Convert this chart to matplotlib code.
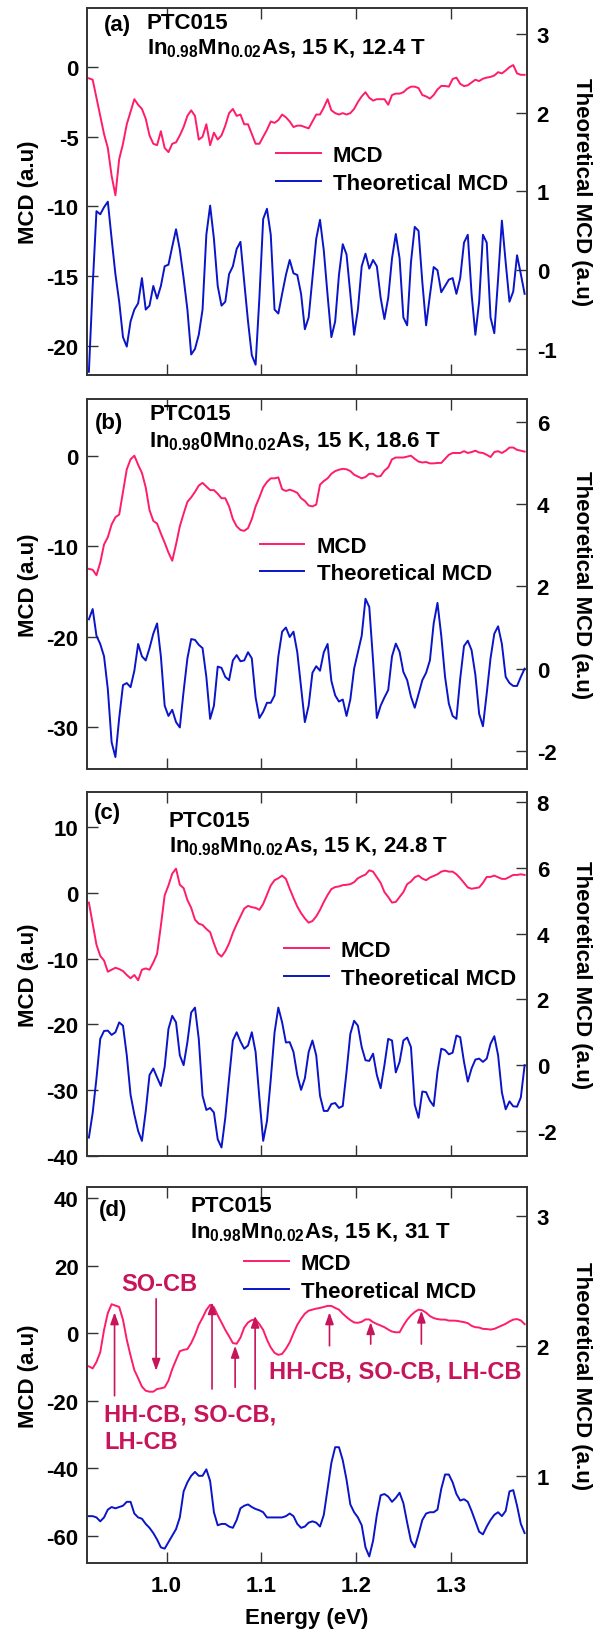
import numpy as np
import matplotlib
matplotlib.use("Agg")
import matplotlib.pyplot as plt

plt.rcParams['font.family'] = ['Liberation Sans', 'DejaVu Sans']
plt.rcParams['font.weight'] = 'bold'
plt.rcParams['axes.unicode_minus'] = False
plt.rcParams['mathtext.fontset'] = 'custom'
plt.rcParams['mathtext.rm'] = 'Liberation Sans:bold'
plt.rcParams['mathtext.bf'] = 'Liberation Sans:bold'

# energy grid (eV), shared by every curve
energy = [0.918, 0.922, 0.926, 0.930, 0.934, 0.938, 0.942, 0.946, 0.950, 0.954,
          0.958, 0.962, 0.966, 0.970, 0.974, 0.978, 0.982, 0.986, 0.990, 0.994,
          0.998, 1.002, 1.006, 1.010, 1.014, 1.018, 1.022, 1.026, 1.030, 1.034,
          1.038, 1.042, 1.046, 1.050, 1.054, 1.058, 1.062, 1.066, 1.070, 1.074,
          1.078, 1.082, 1.086, 1.090, 1.094, 1.098, 1.102, 1.106, 1.110, 1.114,
          1.118, 1.122, 1.126, 1.130, 1.134, 1.138, 1.142, 1.146, 1.150, 1.154,
          1.158, 1.162, 1.166, 1.170, 1.174, 1.178, 1.182, 1.186, 1.190, 1.194,
          1.198, 1.202, 1.206, 1.210, 1.214, 1.218, 1.222, 1.226, 1.230, 1.234,
          1.238, 1.242, 1.246, 1.250, 1.254, 1.258, 1.262, 1.266, 1.270, 1.274,
          1.278, 1.282, 1.286, 1.290, 1.294, 1.298, 1.302, 1.306, 1.310, 1.314,
          1.318, 1.322, 1.326, 1.330, 1.334, 1.338, 1.342, 1.346, 1.350, 1.354,
          1.358, 1.362, 1.366, 1.370, 1.374, 1.378]

# (a) 12.4 T
mcd_a = [-0.8, -0.9, -2.2, -3.5, -4.8, -5.8, -7.8, -9.2, -6.6, -5.5,
         -4.1, -3.2, -2.3, -2.7, -3.0, -3.7, -4.9, -5.5, -5.6, -4.6,
         -5.8, -6.1, -5.5, -5.4, -4.9, -4.3, -3.5, -3.1, -3.5, -5.2,
         -5.0, -4.1, -5.6, -4.7, -5.2, -4.9, -4.2, -3.3, -3.0, -3.5,
         -3.4, -4.1, -4.1, -4.8, -5.5, -5.5, -5.0, -4.5, -3.9, -4.0,
         -3.8, -3.4, -3.6, -3.9, -4.3, -4.2, -4.2, -4.3, -4.4, -3.9,
         -3.4, -3.4, -2.9, -2.3, -3.1, -3.3, -3.4, -3.3, -3.4, -3.3,
         -3.0, -2.5, -2.1, -1.8, -2.2, -2.4, -2.3, -2.3, -2.3, -2.7,
         -2.0, -1.9, -1.9, -1.8, -1.55, -1.4, -1.4, -1.5, -2.0, -2.1,
         -2.26, -2.0, -1.6, -1.35, -1.35, -1.4, -0.85, -0.75, -1.2, -1.36,
         -1.3, -1.1, -0.9, -1.0, -0.83, -0.75, -0.7, -0.6, -0.36, -0.45,
         -0.24, 0.0, 0.15, -0.45, -0.55, -0.55]
theo_a = [-1.29, -0.2, 0.75, 0.71, 0.8, 0.87, 0.4, -0.05, -0.4, -0.85,
          -0.97, -0.65, -0.5, -0.42, -0.1, -0.5, -0.45, -0.2, -0.36, -0.2,
          0.05, 0.07, 0.3, 0.52, 0.26, -0.1, -0.5, -1.07, -1.0, -0.82,
          -0.5, 0.45, 0.82, 0.4, -0.2, -0.45, -0.4, -0.05, 0.05, 0.27,
          0.36, -0.15, -0.65, -1.08, -1.2, -0.35, 0.65, 0.78, 0.45, -0.5,
          -0.55, -0.3, -0.06, 0.13, -0.04, -0.06, -0.3, -0.75, -0.6, -0.1,
          0.4, 0.64, 0.25, -0.32, -0.85, -0.65, -0.06, 0.33, 0.2, -0.3,
          -0.82, -0.5, 0.05, 0.21, 0.02, 0.13, 0.05, -0.35, -0.62, -0.35,
          0.15, 0.46, 0.15, -0.6, -0.7, 0.1, 0.55, 0.5, -0.15, -0.7,
          -0.32, 0.04, 0.0, -0.28, -0.2, -0.12, -0.1, -0.3, -0.1, 0.35,
          0.45, -0.3, -0.82, -0.4, 0.45, 0.35, -0.6, -0.8, -0.11, 0.63,
          0.1, -0.4, -0.27, 0.19, -0.05, -0.3]

# (b) 18.6 T
mcd_b = [-12.5, -12.6, -13.2, -11.8, -9.8, -9.0, -7.6, -6.8, -6.5, -4.0,
         -1.5, -0.4, 0.0, -1.0, -1.9, -3.5, -6.0, -7.2, -7.5, -8.6,
         -9.6, -10.7, -11.6, -9.8, -7.8, -6.4, -5.1, -4.6, -4.0, -3.3,
         -3.0, -3.4, -3.8, -3.8, -4.2, -4.7, -4.7, -5.6, -7.0, -7.8,
         -8.2, -8.3, -8.0, -7.0, -5.6, -4.6, -3.5, -2.9, -2.5, -2.5,
         -2.4, -3.7, -3.9, -3.75, -3.9, -4.1, -4.7, -5.0, -5.5, -5.6,
         -5.4, -3.2, -2.8, -2.5, -2.0, -1.7, -1.55, -1.45, -1.5, -1.7,
         -2.1, -2.3, -2.5, -2.35, -2.0, -2.0, -2.3, -2.25, -1.65, -1.3,
         -0.4, -0.2, -0.2, -0.2, -0.1, 0.0, -0.35, -0.65, -0.75, -0.7,
         -0.85, -0.85, -0.8, -0.8, -0.35, 0.1, 0.3, 0.3, 0.3, 0.5,
         0.3, 0.4, 0.55, 0.35, 0.3, 0.1, -0.15, 0.4, 0.5, 0.3,
         0.55, 0.9, 0.9, 0.65, 0.55, 0.45]
theo_b = [1.2, 1.45, 0.8, 0.6, 0.3, -0.5, -1.79, -2.15, -1.2, -0.4,
          -0.35, -0.45, -0.05, 0.6, 0.3, 0.2, 0.5, 0.85, 1.1, 0.3,
          -0.9, -1.15, -1.0, -1.3, -1.43, -0.55, 0.25, 0.72, 0.7, 0.58,
          0.5, -0.2, -1.22, -0.9, 0.05, 0.02, -0.2, -0.28, 0.2, 0.33,
          0.18, 0.2, 0.4, 0.25, -0.7, -1.2, -1.05, -0.83, -0.83, -0.65,
          0.3, 0.9, 1.0, 0.77, 0.9, 0.4, -0.45, -1.3, -0.9, -0.1,
          0.06, -0.05, 0.4, 0.6, -0.3, -0.65, -0.8, -0.75, -1.15, -0.75,
          0.0, 0.4, 0.8, 1.7, 1.5, 0.2, -1.2, -0.9, -0.7, -0.52,
          0.3, 0.61, 0.41, -0.08, -0.28, -0.68, -0.95, -0.62, -0.28, -0.1,
          0.2, 1.1, 1.6, 0.8, -0.2, -0.85, -1.15, -1.22, -0.24, 0.55,
          0.68, 0.45, -0.15, -1.1, -1.4, -0.6, 0.25, 0.85, 1.03, 0.6,
          -0.2, -0.35, -0.42, -0.42, -0.2, 0.0]

# (c) 24.8 T
mcd_c = [-1.5, -4.7, -7.9, -9.6, -10.3, -12.0, -11.7, -11.4, -11.6, -11.9,
         -12.5, -13.0, -12.5, -13.3, -11.7, -11.5, -11.7, -10.6, -9.3, -5.0,
         -0.4, 1.1, 2.9, 3.65, 1.2, 0.7, -1.1, -2.3, -4.1, -4.7,
         -4.9, -5.5, -6.0, -7.7, -9.2, -9.7, -8.9, -7.7, -6.1, -4.8,
         -3.6, -2.4, -2.0, -2.2, -2.3, -2.6, -1.7, -0.3, 1.1, 1.9,
         2.2, 2.6, 2.1, 0.6, -0.8, -2.1, -3.1, -3.9, -4.55, -4.3,
         -3.6, -2.6, -1.4, -0.35, 0.55, 0.86, 0.95, 1.15, 1.2, 1.3,
         1.6, 2.2, 2.5, 2.75, 3.4, 3.2, 2.35, 1.5, 0.1, -0.65,
         -1.5, -1.4, -0.65, 0.1, 1.3, 1.7, 2.35, 2.6, 2.15, 1.9,
         2.3, 2.55, 2.8, 3.2, 3.35, 3.2, 3.2, 2.8, 2.2, 1.5,
         0.8, 0.6, 0.7, 0.8, 1.5, 2.4, 2.4, 2.6, 2.35, 2.1,
         2.1, 2.4, 2.7, 2.7, 2.8, 2.7]
theo_c = [-2.2, -1.45, -0.4, 0.8, 1.04, 1.05, 0.92, 1.0, 1.3, 1.2,
          0.3, -0.9, -1.5, -2.0, -2.3, -1.4, -0.3, -0.1, -0.37, -0.63,
          -0.05, 1.1, 1.5, 1.3, 0.3, 0.0, 0.7, 1.6, 1.75, 0.8,
          -0.93, -1.36, -1.3, -1.44, -2.25, -2.5, -1.6, -0.4, 0.75, 1.0,
          0.72, 0.5, 0.6, 1.0, 0.4, -1.0, -2.3, -1.7, -0.43, 0.99,
          1.75, 1.3, 0.69, 0.7, 0.4, -0.3, -0.75, -0.4, 0.4, 0.75,
          0.3, -0.93, -1.39, -1.39, -1.18, -1.15, -1.3, -1.24, -0.2, 0.95,
          1.35, 1.2, 0.55, 0.15, 0.13, 0.35, -0.3, -0.7, 0.0, 0.8,
          0.75, -0.22, 0.1, 0.75, 0.84, 0.55, -1.2, -1.6, -0.8, -0.82,
          -1.08, -1.24, -0.2, 0.5, 0.46, 0.33, 0.38, 0.9, 0.85, 0.1,
          -0.5, -0.1, 0.17, 0.2, 0.1, 0.2, 0.65, 0.88, 0.3, -0.83,
          -1.34, -1.1, -1.25, -1.26, -0.98, 0.0]

# (d) 31 T
mcd_d = [-9.8, -10.4, -8.5, -5.6, 1.0, 6.0, 8.6, 8.2, 7.8, 4.0,
         -1.9, -6.6, -10.9, -13.3, -15.8, -17.0, -17.3, -17.3, -16.5, -16.3,
         -16.0, -14.0, -10.6, -7.9, -5.3, -4.9, -4.7, -2.9, -0.5, 2.5,
         4.6, 6.9, 8.4, 7.7, 5.3, 3.2, 1.0, -0.9, -2.9, -3.1,
         -1.3, 1.7, 3.2, 3.9, 4.1, 2.7, 1.0, -1.9, -4.2, -5.8,
         -6.4, -6.1, -4.6, -2.7, 0.0, 2.5, 4.3, 5.8, 6.7, 7.0,
         7.3, 7.5, 7.8, 8.1, 8.1, 7.5, 7.0, 5.8, 4.8, 3.9,
         3.2, 3.1, 3.4, 4.1, 4.1, 3.3, 2.75, 2.3, 1.8, 1.1,
         0.5, 0.3, 0.3, 2.3, 4.0, 5.3, 6.3, 7.0, 6.8, 6.1,
         5.1, 4.5, 4.2, 4.05, 4.05, 3.75, 3.75, 3.7, 3.5, 3.3,
         3.0, 2.2, 1.8, 1.7, 1.3, 1.25, 1.1, 1.3, 1.8, 2.3,
         2.8, 3.5, 4.05, 4.2, 3.8, 2.7]
theo_d = [0.69, 0.69, 0.68, 0.65, 0.68, 0.74, 0.76, 0.75, 0.76, 0.77,
          0.8, 0.8, 0.71, 0.68, 0.67, 0.63, 0.6, 0.56, 0.51, 0.45,
          0.44, 0.49, 0.54, 0.59, 0.68, 0.88, 0.95, 1.0, 1.03, 1.0,
          1.0, 1.05, 0.96, 0.72, 0.62, 0.63, 0.63, 0.61, 0.6, 0.66,
          0.75, 0.77, 0.78, 0.76, 0.745, 0.735, 0.72, 0.68, 0.68, 0.68,
          0.68, 0.68, 0.69, 0.71, 0.69, 0.63, 0.6, 0.61, 0.64, 0.65,
          0.64, 0.61, 0.7, 0.9, 1.1, 1.22, 1.22, 1.12, 0.97, 0.78,
          0.72, 0.68, 0.62, 0.45, 0.38, 0.5, 0.7, 0.85, 0.86, 0.84,
          0.8, 0.83, 0.87, 0.79, 0.64, 0.5, 0.45, 0.55, 0.66, 0.71,
          0.72, 0.72, 0.74, 0.9, 1.01, 1.01, 0.95, 0.86, 0.81, 0.82,
          0.8, 0.73, 0.65, 0.57, 0.55, 0.61, 0.66, 0.7, 0.72, 0.69,
          0.73, 0.88, 0.89, 0.77, 0.63, 0.56]

panel_tags = ['(a)', '(b)', '(c)', '(d)']
sample_lines = [r'In$_{0.98}$Mn$_{0.02}$As, 15 K, 12.4 T',
                r'In$_{0.98}$0Mn$_{0.02}$As, 15 K, 18.6 T',
                r'In$_{0.98}$Mn$_{0.02}$As, 15 K, 24.8 T',
                r'In$_{0.98}$Mn$_{0.02}$As, 15 K, 31 T']
left_ticks = [[-20, -15, -10, -5, 0], [-30, -20, -10, 0],
              [-40, -30, -20, -10, 0, 10], [-60, -40, -20, 0, 20, 40]]
right_ticks = [[-1, 0, 1, 2, 3], [-2, 0, 2, 4, 6],
               [-2, 0, 2, 4, 6, 8], [1, 2, 3]]
energy_ticks = [1.0, 1.1, 1.2, 1.3]

# transition markers in panel (d): energy, arrow tail, arrow tip
arrow_e = [0.9451, 0.989, 1.048, 1.0724, 1.0935, 1.172, 1.2155, 1.269]
arrow_from = [-18.5, 10.2, -16.5, -16.0, -16.5, -3.7, -3.2, -3.2]
arrow_to = [6.2, -11.1, 9.2, -3.7, 5.2, 6.2, 3.3, 6.7]

mcd_sets = [mcd_a, mcd_b, mcd_c, mcd_d]
theo_sets = [theo_a, theo_b, theo_c, theo_d]

# layout (figure fractions) and limits per panel
boxes = [(0.7695, 0.9945), (0.5279, 0.7548), (0.2906, 0.5138), (0.0411, 0.2716)]
left_lims = [(-22.1, 4.25), (-34.6, 6.27), (-40.0, 15.3), (-68.0, 43.3)]
right_lims = [(-1.33, 3.33), (-2.44, 6.56), (-2.76, 8.3), (0.33, 3.22)]
tag_xy = [(0.039, 0.956), (0.018, 0.937), (0.015, 0.945), (0.028, 0.94)]
head_xy = [(0.136, 0.96, 0.89), (0.142, 0.96, 0.887),
           (0.186, 0.923, 0.852), (0.235, 0.952, 0.88)]
leg_xy = [(0.43, 0.56), (0.393, 0.565), (0.448, 0.527), (0.357, 0.76)]

red = '#ff1c68'
blue = '#0a14c8'
note = '#c8145a'
axc = '#333333'
fs = 16

fig = plt.figure(figsize=(6.02, 16.31), dpi=100)

for i in range(4):
    b, t = boxes[i]
    ax = fig.add_axes([0.1445, b, 0.8754 - 0.1445, t - b])
    ax2 = ax.twinx()

    l1, = ax.plot(energy, mcd_sets[i], color=red, lw=1.4, label='MCD')
    l2, = ax2.plot(energy, theo_sets[i], color=blue, lw=1.4, label='Theoretical MCD')

    ax.set_xlim(0.916, 1.3805)
    ax.set_ylim(*left_lims[i])
    ax2.set_ylim(*right_lims[i])
    ax.set_yticks(left_ticks[i])
    ax2.set_yticks(right_ticks[i])
    ax.set_xticks(energy_ticks)

    for a in (ax, ax2):
        for s in a.spines.values():
            s.set_color(axc)
            s.set_linewidth(1.2)
    ax.tick_params(axis='both', direction='in', length=8, width=1, color=axc,
                   labelsize=fs, top=True, pad=6)
    ax2.tick_params(axis='y', direction='in', length=8, width=1, color=axc,
                    labelsize=fs, pad=7)
    if i < 3:
        ax.tick_params(axis='x', labelbottom=False)
    else:
        ax.xaxis.set_major_formatter(matplotlib.ticker.FormatStrFormatter('%.1f'))
        ax.tick_params(axis='x', pad=9)
        ax.set_xlabel('Energy (eV)', fontsize=fs, fontweight='bold')
        ax.xaxis.set_label_coords(0.5, -0.144)
        ax.xaxis.label.set_va('center')

    ax.set_ylabel('MCD (a.u)', fontsize=fs, fontweight='bold')
    ax.yaxis.set_label_coords(-0.134, 0.5)
    ax.yaxis.label.set_va('center')
    ax2.set_ylabel('Theoretical MCD (a.u)', fontsize=fs, fontweight='bold', rotation=270)
    ax2.yaxis.set_label_coords(1.123, 0.5)
    ax2.yaxis.label.set_va('center')

    ax.text(tag_xy[i][0], tag_xy[i][1], panel_tags[i], transform=ax.transAxes,
            fontsize=fs, fontweight='bold', va='center', ha='left')
    hx, hy1, hy2 = head_xy[i]
    ax.text(hx, hy1, 'PTC015', transform=ax.transAxes,
            fontsize=fs, fontweight='bold', va='center', ha='left')
    ax.text(hx, hy2, sample_lines[i], transform=ax.transAxes,
            fontsize=fs, fontweight='bold', va='center', ha='left')

    ax2.legend(handles=[l1, l2], loc='center left', bbox_to_anchor=leg_xy[i],
               frameon=False, fontsize=fs, handlelength=2.0, handletextpad=0.55,
               labelspacing=0.3, borderpad=0, borderaxespad=0)

    if i == 3:
        for e, y0, y1 in zip(arrow_e, arrow_from, arrow_to):
            ax.annotate('', xy=(e, y1), xytext=(e, y0),
                        arrowprops=dict(arrowstyle='-|>,head_length=0.7,head_width=0.25',
                                        color=note, lw=1.2, shrinkA=0, shrinkB=0))
        ax.text(0.992, 14.6, 'SO-CB', color=note, fontsize=fs + 1,
                fontweight='bold', ha='center', va='center')
        ax.text(1.1085, -11.1, 'HH-CB, SO-CB, LH-CB', color=note, fontsize=fs + 1,
                fontweight='bold', ha='left', va='center')
        ax.text(0.934, -28.1, 'HH-CB, SO-CB,\nLH-CB', color=note, fontsize=fs + 1,
                fontweight='bold', ha='left', va='center', linespacing=1.25)

fig.savefig('out.png', dpi=100)
